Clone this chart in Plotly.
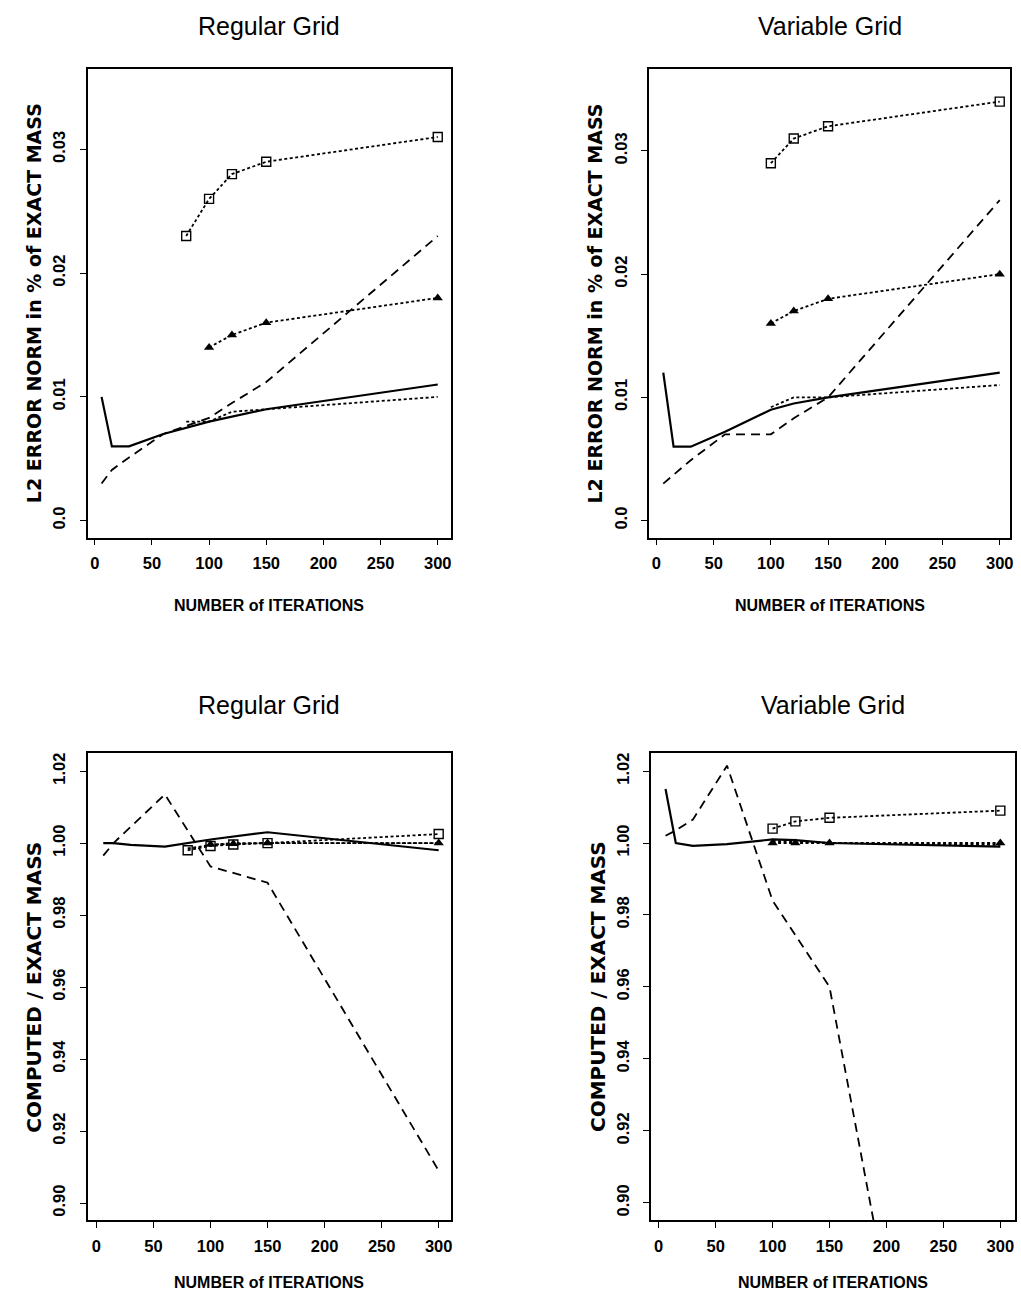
import plotly.graph_objects as go

W, H = 1021, 1296

# ---------------- DATA ----------------
# Top-left: Regular Grid, L2 error norm
tl_solid_x = [6, 15, 30, 60, 100, 150, 300]
tl_solid_y = [0.010, 0.006, 0.006, 0.007, 0.008, 0.009, 0.011]
tl_dash_x = [6, 15, 30, 60, 100, 120, 150, 300]
tl_dash_y = [0.003, 0.0041, 0.0051, 0.0070, 0.0083, 0.0095, 0.0112, 0.023]
tl_sq_x = [80, 100, 120, 150, 300]
tl_sq_y = [0.023, 0.026, 0.028, 0.029, 0.031]
tl_tri_x = [100, 120, 150, 300]
tl_tri_y = [0.014, 0.015, 0.016, 0.018]
tl_dot_x = [80, 100, 120, 150, 300]
tl_dot_y = [0.008, 0.008, 0.0088, 0.009, 0.010]

# Top-right: Variable Grid, L2 error norm
tr_solid_x = [6, 15, 30, 60, 100, 120, 150, 300]
tr_solid_y = [0.012, 0.006, 0.006, 0.0072, 0.009, 0.0095, 0.010, 0.012]
tr_dash_x = [6, 15, 30, 60, 100, 120, 150, 300]
tr_dash_y = [0.003, 0.0037, 0.0049, 0.007, 0.007, 0.0083, 0.0100, 0.026]
tr_sq_x = [100, 120, 150, 300]
tr_sq_y = [0.029, 0.031, 0.032, 0.034]
tr_tri_x = [100, 120, 150, 300]
tr_tri_y = [0.016, 0.017, 0.018, 0.020]
tr_dot_x = [100, 120, 150, 300]
tr_dot_y = [0.0092, 0.010, 0.010, 0.011]

# Bottom-left: Regular Grid, computed / exact mass
bl_solid_x = [6, 15, 30, 60, 100, 150, 300]
bl_solid_y = [1.000, 1.000, 0.9995, 0.999, 1.001, 1.003, 0.998]
bl_dash_x = [6, 15, 30, 60, 100, 150, 300]
bl_dash_y = [0.9965, 1.000, 1.0045, 1.0135, 0.9935, 0.989, 0.909]
bl_sq_x = [80, 100, 120, 150, 300]
bl_sq_y = [0.998, 0.9992, 0.9996, 1.000, 1.0025]
bl_tri_x = [100, 120, 150, 300]
bl_tri_y = [0.9996, 0.9998, 1.000, 1.000]
bl_dot_x = [80, 100, 120, 150, 300]
bl_dot_y = [0.9985, 0.9995, 1.000, 1.000, 1.000]

# Bottom-right: Variable Grid, computed / exact mass
br_solid_x = [6, 15, 30, 60, 100, 120, 150, 300]
br_solid_y = [1.015, 1.000, 0.9992, 0.9997, 1.001, 1.0008, 1.000, 0.999]
br_dash_x = [6, 15, 30, 60, 100, 150, 200]
br_dash_y = [1.002, 1.0035, 1.0065, 1.0215, 0.984, 0.960, 0.876]
br_sq_x = [100, 120, 150, 300]
br_sq_y = [1.004, 1.006, 1.007, 1.009]
br_tri_x = [100, 120, 150, 300]
br_tri_y = [1.000, 1.000, 1.000, 1.000]
br_dot_x = [100, 120, 150, 300]
br_dot_y = [1.0005, 1.0005, 1.000, 0.9995]

titles = ["Regular Grid", "Variable Grid", "Regular Grid", "Variable Grid"]
ytitles = ["L2 ERROR NORM in % of EXACT MASS", "L2 ERROR NORM in % of EXACT MASS",
           "COMPUTED / EXACT MASS", "COMPUTED / EXACT MASS"]
xtitle = "NUMBER of ITERATIONS"
x_ticks = [0, 50, 100, 150, 200, 250, 300]
y_ticks_top = [0.0, 0.01, 0.02, 0.03]
y_ticklabels_top = ["0.0", "0.01", "0.02", "0.03"]
y_ticks_bot = [0.90, 0.92, 0.94, 0.96, 0.98, 1.00, 1.02]
y_ticklabels_bot = ["0.90", "0.92", "0.94", "0.96", "0.98", "1.00", "1.02"]

panels = [
    dict(solid=(tl_solid_x, tl_solid_y), dash=(tl_dash_x, tl_dash_y), sq=(tl_sq_x, tl_sq_y),
         tri=(tl_tri_x, tl_tri_y), dot=(tl_dot_x, tl_dot_y)),
    dict(solid=(tr_solid_x, tr_solid_y), dash=(tr_dash_x, tr_dash_y), sq=(tr_sq_x, tr_sq_y),
         tri=(tr_tri_x, tr_tri_y), dot=(tr_dot_x, tr_dot_y)),
    dict(solid=(bl_solid_x, bl_solid_y), dash=(bl_dash_x, bl_dash_y), sq=(bl_sq_x, bl_sq_y),
         tri=(bl_tri_x, bl_tri_y), dot=(bl_dot_x, bl_dot_y)),
    dict(solid=(br_solid_x, br_solid_y), dash=(br_dash_x, br_dash_y), sq=(br_sq_x, br_sq_y),
         tri=(br_tri_x, br_tri_y), dot=(br_dot_x, br_dot_y)),
]

# ---------------- LAYOUT (pixel boxes) ----------------
boxes = [  # x0, x1, y0(top), y1(bottom)
    (88, 452, 68, 537),
    (651, 1013, 68, 537),
    (88, 452, 753, 1220),
    (653, 1018, 753, 1220),
]
xranges = [[-6.1, 311.3], [-6.4, 309.0], [-7.6, 310.5], [-6.7, 312.9]]
yranges = [[-0.00137, 0.03650], [-0.00138, 0.03665], [0.8953, 1.0249], [0.8952, 1.0249]]

FONT = "Liberation Sans, Arial, sans-serif"
fig = go.Figure()
layout = dict(width=W, height=H, margin=dict(l=0, r=0, t=0, b=0),
              paper_bgcolor="white", plot_bgcolor="white", showlegend=False,
              font=dict(family=FONT, color="black"))
annotations = []

DOT = "3px,2.5px"
DASH = "9px,6px"

for i, (p, b) in enumerate(zip(panels, boxes)):
    n = "" if i == 0 else str(i + 1)
    xa, ya = "x" + n, "y" + n
    x0, x1, yt, yb = b
    top = i < 2
    layout["xaxis" + n] = dict(
        domain=[x0 / W, x1 / W], range=xranges[i], anchor=ya,
        showline=True, linecolor="black", linewidth=1.5, mirror=True,
        ticks="outside", ticklen=6, tickwidth=1.3, tickcolor="black",
        tickvals=x_ticks, ticktext=[str(v) for v in x_ticks],
        tickfont=dict(family=FONT, size=16.5, color="black", weight="bold"),
        showgrid=False, zeroline=False, ticklabelstandoff=4)
    layout["yaxis" + n] = dict(
        domain=[1 - yb / H, 1 - yt / H], range=yranges[i], anchor=xa,
        showline=True, linecolor="black", linewidth=1.5, mirror=True,
        ticks="outside", ticklen=6, tickwidth=1.3, tickcolor="black",
        tickvals=y_ticks_top if top else y_ticks_bot,
        ticktext=y_ticklabels_top if top else y_ticklabels_bot,
        tickangle=-90,
        tickfont=dict(family=FONT, size=16.5, color="black", weight="bold"),
        showgrid=False, zeroline=False, ticklabelstandoff=8)

    sx, sy = p["solid"]
    fig.add_trace(go.Scatter(x=sx, y=sy, mode="lines", xaxis=xa, yaxis=ya,
                             line=dict(color="black", width=2.2)))
    dx, dy = p["dash"]
    fig.add_trace(go.Scatter(x=dx, y=dy, mode="lines", xaxis=xa, yaxis=ya,
                             line=dict(color="black", width=1.8, dash=DASH)))
    ox, oy = p["dot"]
    fig.add_trace(go.Scatter(x=ox, y=oy, mode="lines", xaxis=xa, yaxis=ya,
                             line=dict(color="black", width=1.8, dash=DOT)))
    qx, qy = p["sq"]
    fig.add_trace(go.Scatter(x=qx, y=qy, mode="lines+markers", xaxis=xa, yaxis=ya,
                             line=dict(color="black", width=1.8, dash=DOT),
                             marker=dict(symbol="square-open", size=9, color="black",
                                         line=dict(width=1.4, color="black"))))
    tx, ty = p["tri"]
    fig.add_trace(go.Scatter(x=tx, y=ty, mode="lines+markers", xaxis=xa, yaxis=ya,
                             line=dict(color="black", width=1.8, dash=DOT),
                             marker=dict(symbol="triangle-up", size=9, color="black")))

    cx = (x0 + x1) / 2
    annotations.append(dict(text=titles[i], x=cx / W, y=1 - (25 if top else 705) / H,
                            xref="paper", yref="paper", showarrow=False,
                            xanchor="center", yanchor="middle",
                            font=dict(family=FONT, size=25, color="black")))
    annotations.append(dict(text=xtitle, x=cx / W, y=1 - (yb + (68 if top else 62)) / H,
                            xref="paper", yref="paper", showarrow=False,
                            xanchor="center", yanchor="middle",
                            font=dict(family=FONT, size=16, color="black", weight="bold")))
    annotations.append(dict(text=ytitles[i], x=(x0 - 54) / W, y=1 - ((yt + yb) / 2) / H,
                            xref="paper", yref="paper", showarrow=False, textangle=-90,
                            xanchor="center", yanchor="middle",
                            font=dict(family="DejaVu Sans, sans-serif",
                                      size=19 if top else 20,
                                      color="black", weight="bold")))

layout["annotations"] = annotations
fig.update_layout(**layout)
fig.write_html("out.html", config={"displayModeBar": False})

# remove the browser's default page margin so pixel positions match
with open("out.html", "r", encoding="utf-8") as f:
    html = f.read()
html = html.replace("<head>", "<head><style>html,body{margin:0;padding:0;}</style>", 1)
with open("out.html", "w", encoding="utf-8") as f:
    f.write(html)
